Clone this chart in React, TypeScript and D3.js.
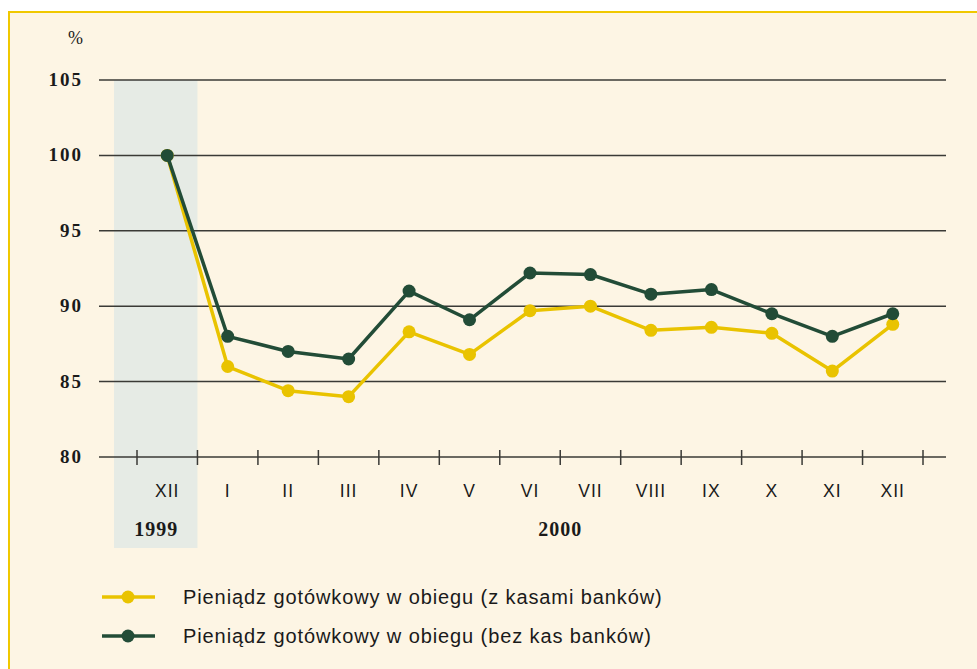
import React, { useEffect, useRef } from "react";
import * as d3 from "d3";

// months: first is XII 1999, rest are 2000
const months = ["XII", "I", "II", "III", "IV", "V", "VI", "VII", "VIII", "IX", "X", "XI", "XII"];
const withVaults = [100, 86.0, 84.4, 84.0, 88.3, 86.8, 89.7, 90.0, 88.4, 88.6, 88.2, 85.7, 88.8];
const withoutVaults = [100, 88.0, 87.0, 86.5, 91.0, 89.1, 92.2, 92.1, 90.8, 91.1, 89.5, 88.0, 89.5];
const yTicks = [80, 85, 90, 95, 100, 105];
const seriesNames = [
  "Pieniądz gotówkowy w obiegu (z kasami banków)",
  "Pieniądz gotówkowy w obiegu (bez kas banków)",
];

const YELLOW = "#e9c300";
const GREEN = "#224c37";
const BG = "#fdf5e4";

export default function App() {
  const ref = useRef<SVGSVGElement>(null);

  useEffect(() => {
    const svg = d3.select(ref.current);
    svg.selectAll("*").remove();

    const W = 977;
    const H = 669;

    // frame
    svg.append("rect").attr("width", W).attr("height", H).attr("fill", "#fff");
    svg
      .append("rect")
      .attr("x", 9)
      .attr("y", 12)
      .attr("width", W)
      .attr("height", H)
      .attr("fill", BG)
      .attr("stroke", "#f0c800")
      .attr("stroke-width", 2);

    // band scale: 13 month slots, tick marks on slot edges
    const x = d3.scaleBand<number>().domain(d3.range(months.length)).range([137, 923]);
    const cx = (i: number) => x(i)! + x.bandwidth() / 2;
    const y = d3.scaleLinear().domain([80, 105]).range([457, 80]);

    // 1999 shaded block
    svg
      .append("rect")
      .attr("x", 114)
      .attr("y", y(105))
      .attr("width", x(1)! - 114)
      .attr("height", 548 - y(105))
      .attr("fill", "#e6ebe5");

    // gridlines
    svg
      .append("g")
      .selectAll("line")
      .data(yTicks)
      .enter()
      .append("line")
      .attr("x1", 99)
      .attr("x2", 946)
      .attr("y1", (d) => y(d))
      .attr("y2", (d) => y(d))
      .attr("stroke", "#3a3a36")
      .attr("stroke-width", 1.5);

    // y labels
    svg
      .append("g")
      .selectAll("text")
      .data(yTicks)
      .enter()
      .append("text")
      .attr("x", 83)
      .attr("y", (d) => y(d) + 6)
      .attr("text-anchor", "end")
      .attr("font-family", "Liberation Serif, serif")
      .attr("font-weight", "bold")
      .attr("font-size", 19)
      .attr("letter-spacing", 2)
      .attr("fill", "#1a1a1a")
      .text((d) => d);

    svg
      .append("text")
      .attr("x", 83)
      .attr("y", 44)
      .attr("text-anchor", "end")
      .attr("font-family", "Liberation Serif, serif")
      .attr("font-size", 18)
      .attr("fill", "#1a1a1a")
      .text("%");

    // tick marks at slot edges
    const edges = d3
      .range(months.length + 1)
      .map((i) => (i < months.length ? x(i)! : x(months.length - 1)! + x.bandwidth()));
    svg
      .append("g")
      .selectAll("line")
      .data(edges)
      .enter()
      .append("line")
      .attr("x1", (d) => d)
      .attr("x2", (d) => d)
      .attr("y1", y(80) - 7)
      .attr("y2", y(80) + 8)
      .attr("stroke", "#3a3a36")
      .attr("stroke-width", 1.5);

    // month labels
    svg
      .append("g")
      .selectAll("text")
      .data(months)
      .enter()
      .append("text")
      .attr("x", (_, i) => cx(i))
      .attr("y", 497)
      .attr("text-anchor", "middle")
      .attr("font-family", "Liberation Sans, sans-serif")
      .attr("font-size", 17.5)
      .attr("letter-spacing", 1)
      .attr("fill", "#1a1a1a")
      .text((d) => d);

    // years
    const yearFont = (t: d3.Selection<SVGTextElement, unknown, null, undefined>) =>
      t
        .attr("y", 536)
        .attr("text-anchor", "middle")
        .attr("font-family", "Liberation Serif, serif")
        .attr("font-weight", "bold")
        .attr("font-size", 20)
        .attr("letter-spacing", 1)
        .attr("fill", "#1a1a1a");
    svg.append("text").attr("x", cx(0) - 11).call(yearFont).text("1999");
    svg
      .append("text")
      .attr("x", (cx(1) + cx(months.length - 1)) / 2)
      .call(yearFont)
      .text("2000");

    // series
    const line = d3
      .line<number>()
      .x((_, i) => cx(i))
      .y((d) => y(d));

    const series = [
      { values: withVaults, color: YELLOW },
      { values: withoutVaults, color: GREEN },
    ];

    series.forEach((s) => {
      const g = svg.append("g");
      g.append("path")
        .attr("d", line(s.values)!)
        .attr("fill", "none")
        .attr("stroke", s.color)
        .attr("stroke-width", 3.5)
        .attr("stroke-linejoin", "round");
      g.selectAll("circle")
        .data(s.values)
        .enter()
        .append("circle")
        .attr("cx", (_, i) => cx(i))
        .attr("cy", (d) => y(d))
        .attr("r", 6.5)
        .attr("fill", s.color);
    });

    // legend
    const legend = svg.append("g");
    series.forEach((s, i) => {
      const ly = 597 + i * 39;
      legend
        .append("line")
        .attr("x1", 102)
        .attr("x2", 155)
        .attr("y1", ly)
        .attr("y2", ly)
        .attr("stroke", s.color)
        .attr("stroke-width", 3.5);
      legend.append("circle").attr("cx", 128).attr("cy", ly).attr("r", 6.5).attr("fill", s.color);
      legend
        .append("text")
        .attr("x", 183)
        .attr("y", ly + 7)
        .attr("font-family", "Liberation Sans, sans-serif")
        .attr("font-size", 20)
        .attr("letter-spacing", 0.9)
        .attr("fill", "#1a1a1a")
        .text(seriesNames[i]);
    });
  }, []);

  return (
    <svg
      ref={ref}
      width={977}
      height={669}
      style={{ position: "absolute", left: 0, top: 0, display: "block" }}
    />
  );
}
